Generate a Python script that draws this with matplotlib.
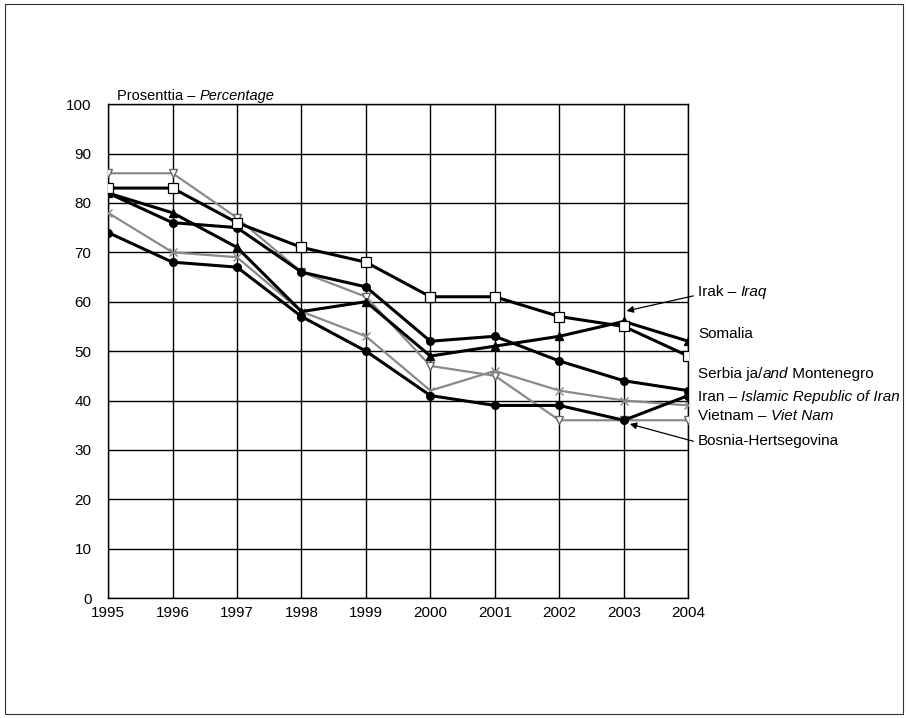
import matplotlib
matplotlib.use("Agg")
import matplotlib.pyplot as plt
from matplotlib.patches import Rectangle

# data
years = [1995, 1996, 1997, 1998, 1999, 2000, 2001, 2002, 2003, 2004]
iraq = [83, 83, 76, 71, 68, 61, 61, 57, 55, 49]
somalia = [82, 78, 71, 58, 60, 49, 51, 53, 56, 52]
serbia = [82, 76, 75, 66, 63, 52, 53, 48, 44, 42]
vietnam = [86, 86, 77, 66, 61, 47, 45, 36, 36, 36]
iran = [78, 70, 69, 58, 53, 42, 46, 42, 40, 39]
bosnia = [74, 68, 67, 57, 50, 41, 39, 39, 36, 41]
yticks = [0, 10, 20, 30, 40, 50, 60, 70, 80, 90, 100]

plt.rcParams["font.family"] = ["Liberation Sans", "DejaVu Sans"]

fig = plt.figure(figsize=(9.08, 7.18), dpi=100)
fig.patches.append(Rectangle((0.006, 0.006), 0.988, 0.988, transform=fig.transFigure,
                             fill=False, lw=0.8, ec="#333333"))
ax = fig.add_axes([0.119, 0.167, 0.639, 0.688])

ax.plot(years, vietnam, color="#8a8a8a", lw=1.6, marker="v", ms=6,
        mfc="white", mec="#666666", mew=1.0, zorder=3)
ax.plot(years, iran, color="#8a8a8a", lw=1.6, marker="x", ms=6,
        mec="#888888", mew=1.0, zorder=3)
ax.plot(years, bosnia, color="black", lw=2.2, marker="o", ms=5.5, zorder=4)
ax.plot(years, serbia, color="black", lw=2.2, marker="o", ms=5.5, zorder=4)
ax.plot(years, somalia, color="black", lw=2.2, marker="^", ms=6, zorder=4)
ax.plot(years, iraq, color="black", lw=2.2, marker="s", ms=7, mfc="white",
        mec="black", mew=0.9, zorder=5)

ax.set_xlim(years[0], years[-1])
ax.set_ylim(0, 100)
ax.set_xticks(years)
ax.set_yticks(yticks)
ax.grid(True, color="black", lw=1.0)
ax.tick_params(length=0, labelsize=11)
ax.tick_params(axis="y", pad=12)
ax.tick_params(axis="x", pad=6)
for s in ax.spines.values():
    s.set_linewidth(1.0)

fig.canvas.draw()


def rich(x, y, parts, transform, size=11):
    """Draw text pieces side by side, some italic."""
    r = fig.canvas.get_renderer()
    inv = fig.transFigure.inverted()
    px, py = transform.transform((x, y))
    for txt, style in parts:
        t = fig.text(*inv.transform((px, py)), txt, fontsize=size, style=style,
                     va="center", ha="left")
        bb = t.get_window_extent(renderer=r)
        px = bb.x1


rich(0.015, 1.017, [("Prosenttia – ", "normal"), ("Percentage", "italic")],
     ax.transAxes, size=10.5)

x_lab = 2004.15
rich(x_lab, 62, [("Irak – ", "normal"), ("Iraq", "italic")], ax.transData)
rich(x_lab, 53.5, [("Somalia", "normal")], ax.transData)
rich(x_lab, 45.3, [("Serbia ja/", "normal"), ("and", "italic"), (" Montenegro", "normal")], ax.transData)
rich(x_lab, 40.8, [("Iran – ", "normal"), ("Islamic Republic of Iran", "italic")], ax.transData)
rich(x_lab, 36.8, [("Vietnam – ", "normal"), ("Viet Nam", "italic")], ax.transData)
rich(x_lab, 31.8, [("Bosnia-Hertsegovina", "normal")], ax.transData)

ax.annotate("", xy=(2003.0, 58), xytext=(2004.12, 61.3),
            arrowprops=dict(arrowstyle="-|>", color="black", lw=0.9,
                            mutation_scale=10), annotation_clip=False)
ax.annotate("", xy=(2003.05, 35.4), xytext=(2004.12, 31.6),
            arrowprops=dict(arrowstyle="-|>", color="black", lw=0.9,
                            mutation_scale=10), annotation_clip=False)

fig.savefig("out.png", dpi=100)
